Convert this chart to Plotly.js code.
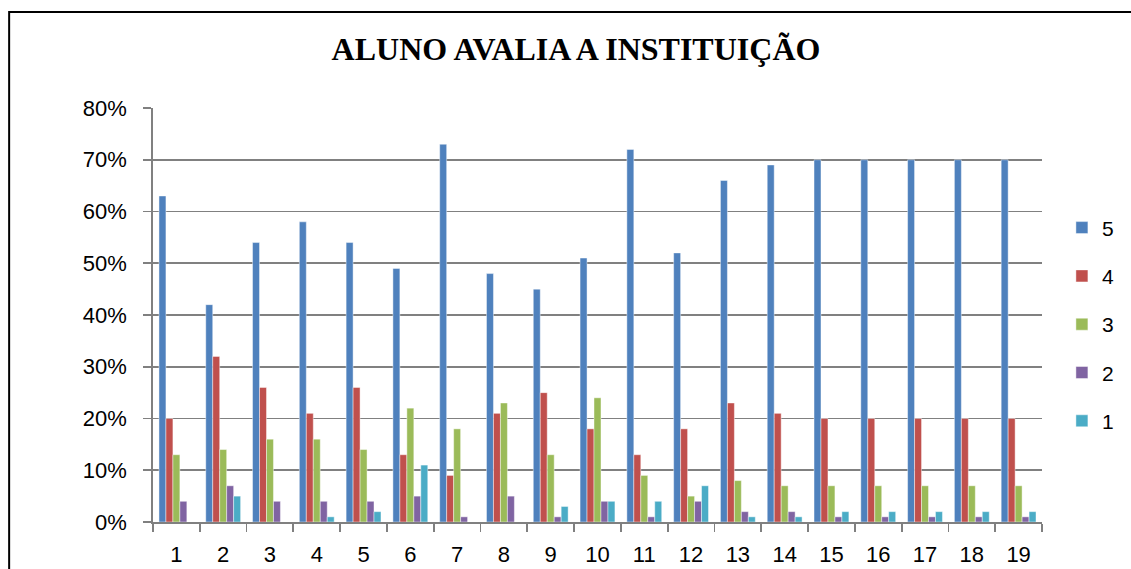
<!DOCTYPE html>
<html>
<head>
<meta charset="utf-8">
<script src="https://cdn.plot.ly/plotly-3.0.1.min.js"></script>
<style>
html,body{margin:0;padding:0;background:#fff;}
#chart{width:1131px;height:569px;}
</style>
</head>
<body>
<div id="chart"></div>
<script>
const categories = ['1','2','3','4','5','6','7','8','9','10','11','12','13','14','15','16','17','18','19'];
const seriesNames = ['5','4','3','2','1'];
const s5 = [63,42,54,58,54,49,73,48,45,51,72,52,66,69,70,70,70,70,70];
const s4 = [20,32,26,21,26,13,9,21,25,18,13,18,23,21,20,20,20,20,20];
const s3 = [13,14,16,16,14,22,18,23,13,24,9,5,8,7,7,7,7,7,7];
const s2 = [4,7,4,4,4,5,1,5,1,4,1,4,2,2,1,1,1,1,1];
const s1 = [0,5,0,1,2,11,0,0,3,4,4,7,1,1,2,2,2,2,2];
const colors = ['#4F81BD','#C0504D','#9BBB59','#8064A2','#4BACC6'];

const seriesValues = [s5,s4,s3,s2,s1];
const traces = seriesValues.map((vals,i)=>({
  type:'bar',
  name: seriesNames[i],
  legendgroup: 'g'+i,
  x: categories,
  y: vals,
  marker:{color:colors[i], line:{color:'rgba(255,255,255,0.55)', width:0.8}},
  hoverinfo:'x+y+name'
}));

// plot area geometry (px) used only to convert frame position to paper coords
const L=153, R=1131-1046, T=107.5, B=569-521.7;
const pw=1131-L-R, ph=569-T-B;
const px=(x)=>(x-L)/pw, py=(y)=>(569-B-y)/ph;

const layout = {
  width:1131, height:569,
  margin:{l:L, r:R, t:T, b:B, pad:0},
  paper_bgcolor:'#ffffff', plot_bgcolor:'#ffffff',
  barmode:'group', bargap:0.255, bargroupgap:0,
  title:{
    text:'<b>ALUNO AVALIA A INSTITUIÇÃO</b>',
    font:{family:'Liberation Serif, Times New Roman, serif', size:32, color:'#000'},
    xref:'container', x:576/1131, xanchor:'center',
    yref:'container', y:1-49/569, yanchor:'middle'
  },
  font:{family:'Liberation Sans, Arial, sans-serif', color:'#000'},
  xaxis:{
    type:'category',
    showgrid:false,
    showline:true, linecolor:'#808080', linewidth:1.8,
    ticks:'outside', tickson:'boundaries', ticklen:8, tickcolor:'#808080', tickwidth:1.8,
    tickfont:{size:22, color:'#000'},
    ticklabelstandoff:12,
    zeroline:false, fixedrange:true
  },
  yaxis:{
    range:[0,80], dtick:10, ticksuffix:'%',
    showgrid:true, gridcolor:'#808080', gridwidth:1.8,
    showline:true, linecolor:'#808080', linewidth:1.8,
    ticks:'outside', ticklen:8, tickcolor:'#808080', tickwidth:1.8,
    tickfont:{size:22, color:'#000'},
    ticklabelstandoff:12,
    zeroline:false, fixedrange:true
  },
  legend:{
    x:px(1066), xanchor:'left', y:py(207), yanchor:'top',
    font:{size:21, color:'#000'},
    tracegroupgap:18, traceorder:'grouped',
    bgcolor:'rgba(0,0,0,0)'
  },
  shapes:[{
    type:'rect', xref:'paper', yref:'paper',
    x0:px(8.5), x1:px(1140), y0:py(11.5), y1:py(580),
    line:{color:'#000', width:2}, fillcolor:'rgba(0,0,0,0)', layer:'above'
  }],
  showlegend:true
};

Plotly.newPlot('chart', traces, layout, {displayModeBar:false, staticPlot:true});
</script>
</body>
</html>
